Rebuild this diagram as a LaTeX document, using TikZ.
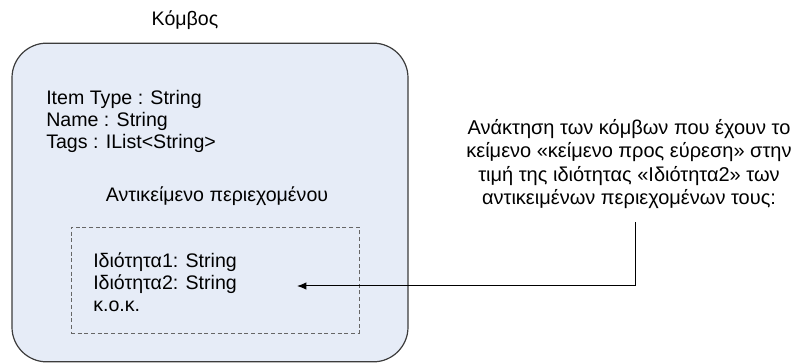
\documentclass[tikz,border=0pt]{standalone}
\usepackage{fontspec}
\setmainfont{Liberation Sans}
\usepackage{xcolor}
\usetikzlibrary{positioning,arrows.meta}
\definecolor{nodefill}{RGB}{230,236,247}
\definecolor{nodeline}{RGB}{60,60,60}
\tikzset{
  txt/.style={font=\fontsize{14.7}{16.5}\selectfont, inner sep=0pt, align=left},
  ctxt/.style={font=\fontsize{15}{17.6}\selectfont, inner sep=0pt, align=center},
  nodebox/.style={draw=nodeline, fill=nodefill, line width=0.9pt, rounded corners=26pt},
  contentbox/.style={draw=black!60, dashed, dash pattern=on 3pt off 2pt, line width=0.6pt},
  flow/.style={-{Latex[length=7pt,width=5.5pt]}, line width=0.75pt},
}

\begin{document}
\begin{tikzpicture}[x=0.75pt, y=-0.75pt]
  \useasboundingbox (0,0) rectangle (793,363);
  % node (outer box)
  \node[txt] (title) at (185,20) {Κόμβος};
  \node[nodebox, minimum width=297pt, minimum height=239pt] (komvos) at (210,202.5) {};
  \node[txt, anchor=west] (fields) at (46,121)
    {Item Type : String\\Name : String\\Tags : IList<String>};
  % content object
  \node[txt] (contlbl) at (217,196) {Αντικείμενο περιεχομένου};
  \node[contentbox, minimum width=216pt, minimum height=79.5pt] (content) at (215,280) {};
  \node[txt, anchor=west] (props) at (93,282)
    {Ιδιότητα1: String\\Ιδιότητα2: String\\κ.ο.κ.};
  % query
  \node[ctxt] (query) at (629,164)
    {Ανάκτηση των κόμβων που έχουν το\\κείμενο «κείμενο προς εύρεση» στην\\τιμή της ιδιότητας «Ιδιότητα2» των\\αντικειμένων περιεχομένων τους:};
  \coordinate (corner) at (635,286);
  \coordinate (hit) at (297,286);
  % arrow
  \draw[flow] ([yshift=-10pt]query.south -| corner) -- (corner) -- (hit);
\end{tikzpicture}
\end{document}
